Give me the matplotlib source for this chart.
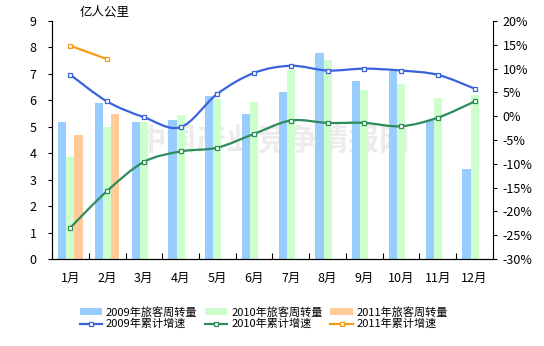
import matplotlib
matplotlib.use("Agg")
import matplotlib.pyplot as plt
from matplotlib.path import Path
from matplotlib.patches import PathPatch
from matplotlib.lines import Line2D
from matplotlib.ticker import FuncFormatter
import numpy as np

plt.rcParams['font.family'] = ['Noto Sans CJK SC', 'DejaVu Sans']

months = ["1月", "2月", "3月", "4月", "5月", "6月", "7月", "8月", "9月", "10月", "11月", "12月"]
vol_2009 = [5.2, 5.9, 5.2, 5.25, 6.15, 5.5, 6.3, 7.78, 6.72, 7.1, 5.25, 3.4]
vol_2010 = [3.85, 5.0, 5.2, 5.45, 6.05, 5.95, 7.16, 7.54, 6.4, 6.6, 6.1, 6.2]
vol_2011 = [4.7, 5.5]
grow_2009 = [8.7, 3.1, -0.2, -2.3, 4.7, 9.1, 10.6, 9.6, 10.0, 9.6, 8.7, 5.8]
grow_2010 = [-23.4, -15.7, -9.6, -7.4, -6.6, -3.7, -0.9, -1.4, -1.4, -2.1, -0.3, 3.1]
grow_2011 = [14.8, 12.0]

c_bar09, c_bar10, c_bar11 = "#99CCFF", "#CCFFCC", "#FFCC99"
c_ln09, c_ln10, c_ln11 = "#3A62DC", "#2E8B5A", "#F59B14"


def smooth_path(x, y):
    # catmull-rom style bezier, like excel's smoothed line
    pts = np.column_stack([x, y]).astype(float)
    verts = [pts[0]]
    codes = [Path.MOVETO]
    n = len(pts)
    for i in range(n - 1):
        p0 = pts[i - 1] if i > 0 else pts[i]
        p1, p2 = pts[i], pts[i + 1]
        p3 = pts[i + 2] if i + 2 < n else pts[i + 1]
        c1 = p1 + (p2 - p0) / 6.0
        c2 = p2 - (p3 - p1) / 6.0
        verts += [c1, c2, p2]
        codes += [Path.CURVE4] * 3
    return Path(verts, codes)


fig = plt.figure(figsize=(5.44, 3.46), dpi=100)
ax = fig.add_axes([0.0956, 0.2514, 0.8106, 0.6878])
ax2 = ax.twinx()

x = np.arange(1, 13)
w = 0.223
ax.bar(x - w, vol_2009, w, color=c_bar09, label="2009年旅客周转量", zorder=2)
ax.bar(x, vol_2010, w, color=c_bar10, label="2010年旅客周转量", zorder=2)
ax.bar(x[:2] + w, vol_2011, w, color=c_bar11, label="2011年旅客周转量", zorder=2)

ax.text(0.5, 0.5, "中国产业竞争情报网", transform=ax.transAxes, ha="center", va="center",
        fontsize=22, fontweight="bold", color="#ECECEC", zorder=1)

handles = []
for vals, col, lab in [(grow_2009, c_ln09, "2009年累计增速"),
                       (grow_2010, c_ln10, "2010年累计增速"),
                       (grow_2011, c_ln11, "2011年累计增速")]:
    xs = x[:len(vals)]
    if len(vals) > 2:
        ax2.add_patch(PathPatch(smooth_path(xs, vals), facecolor="none", edgecolor=col, lw=1.6, zorder=3))
    else:
        ax2.plot(xs, vals, color=col, lw=1.6, zorder=3)
    ax2.plot(xs, vals, ls="none", marker="s", ms=3.2, mfc="white", mec=col, mew=0.9, zorder=4)
    handles.append(Line2D([], [], color=col, lw=1.6, marker="s", ms=3.2, mfc="white", mec=col, mew=0.9, label=lab))

ax.set_xlim(0.5, 12.5)
ax.set_ylim(0, 9)
ax.set_yticks(range(0, 10))
ax2.set_ylim(-30, 20)
ax2.set_yticks(range(-30, 21, 5))
ax2.yaxis.set_major_formatter(FuncFormatter(lambda v, p: "%d%%" % v))

ax.set_xticks(x)
ax.set_xticklabels(months)
ax.set_xticks(np.arange(0.5, 12.6, 1), minor=True)
ax.tick_params(axis="x", which="major", length=0, pad=9, labelsize=9)
ax.tick_params(axis="x", which="minor", length=4, direction="in", width=0.8)
ax.tick_params(axis="y", length=3, width=0.8, pad=8, labelsize=9)
ax2.tick_params(axis="y", length=3, width=0.8, pad=4, labelsize=9)

for a in (ax, ax2):
    a.spines["top"].set_visible(False)
    for s in ("left", "right", "bottom"):
        a.spines[s].set_linewidth(0.8)
ax.spines["right"].set_visible(False)

fig.text(0.147, 0.963, "亿人公里", ha="left", va="center", fontsize=9)

bh, bl = ax.get_legend_handles_labels()
order = [bh[0], handles[0], bh[1], handles[1], bh[2], handles[2]]
fig.legend(handles=order, labels=[h.get_label() for h in order], ncol=3,
           loc="center", bbox_to_anchor=(0.485, 0.081), frameon=False, fontsize=8,
           handlelength=2.0, handleheight=0.6, handletextpad=0.35, columnspacing=0.7,
           labelspacing=0.12)

fig.savefig("out.png", dpi=100)
